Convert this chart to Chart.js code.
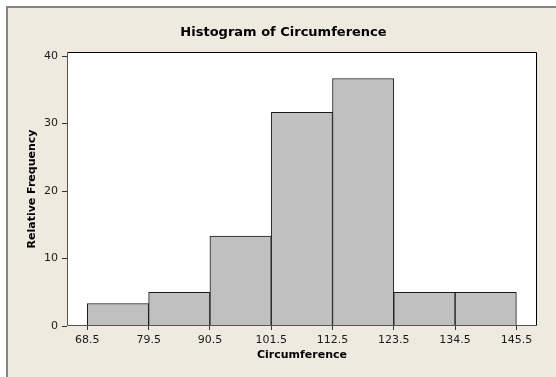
<!DOCTYPE html>
<html>
<head>
<meta charset="utf-8">
<script src="https://cdn.jsdelivr.net/npm/chart.js@4/dist/chart.umd.min.js"></script>
<style>
    html, body { margin: 0; padding: 0; background: #ffffff; }
    #frame {
        position: absolute; left: 6px; top: 6px; right: 0; bottom: 0;
        background: #eeeae0;
        border-top: 2px solid #848484;
        border-left: 2px solid #848484;
    }
    #histChart { position: absolute; left: 0; top: 0; }
</style>
</head>
<body>
<div id="frame"></div>
<canvas id="histChart" width="556" height="377"></canvas>
<script>
// class boundaries (also the x tick labels) and bar centres
const binEdges = [68.5, 79.5, 90.5, 101.5, 112.5, 123.5, 134.5, 145.5];
const binMidpoints = [74, 85, 96, 107, 118, 129, 140];
// relative frequency (%) per class
const relFreq = [3.33, 5.0, 13.33, 31.67, 36.67, 5.0, 5.0];
const yTicks = [0, 10, 20, 30, 40];

const FONT = 'DejaVu Sans';

// white plot area + frame round it
const plotFrame = {
    id: 'plotFrame',
    beforeDatasetsDraw(chart) {
        const { ctx, chartArea: a } = chart;
        ctx.save();
        ctx.fillStyle = '#ffffff';
        ctx.fillRect(a.left, a.top, a.right - a.left, a.bottom - a.top);
        ctx.restore();
    },
    afterDatasetsDraw(chart) {
        const { ctx, chartArea: a } = chart;
        ctx.save();
        ctx.lineWidth = 1;
        ctx.strokeStyle = '#000000';
        ctx.beginPath();
        ctx.moveTo(a.left + 0.5, a.top + 0.5);
        ctx.lineTo(a.right - 0.5, a.top + 0.5);
        ctx.lineTo(a.right - 0.5, a.bottom - 0.5);
        ctx.stroke();
        ctx.strokeStyle = '#555555';
        ctx.beginPath();
        ctx.moveTo(a.left + 0.5, a.top + 0.5);
        ctx.lineTo(a.left + 0.5, a.bottom - 0.5);
        ctx.lineTo(a.right - 0.5, a.bottom - 0.5);
        ctx.stroke();
        ctx.restore();
    }
};

const ctx = document.getElementById('histChart').getContext('2d');

new Chart(ctx, {
    type: 'bar',
    data: {
        datasets: [{
            label: 'Relative Frequency',
            data: binMidpoints.map((x, i) => ({ x: x, y: relFreq[i] })),
            backgroundColor: '#c0c0c0',
            borderColor: '#1a1a1a',
            borderWidth: 1,
            borderSkipped: 'bottom',
            barPercentage: 1,
            categoryPercentage: 1
        }]
    },
    options: {
        responsive: false,
        animation: false,
        layout: { padding: { left: 11, right: 0, top: 0, bottom: 0 } },
        plugins: {
            legend: { display: false },
            tooltip: { enabled: false },
            title: {
                display: true,
                text: 'Histogram of Circumference',
                color: '#000000',
                font: { family: FONT, size: 13, weight: 'bold' },
                padding: { top: 25.2, bottom: 11.2 }
            }
        },
        scales: {
            x: {
                type: 'linear',
                offset: false,
                min: 64.85,
                max: 149.2,
                afterBuildTicks: (scale) => {
                    scale.ticks = binEdges.map(v => ({ value: v }));
                },
                afterFit: (scale) => { scale.height = 51; },
                grid: {
                    offset: false,
                    drawOnChartArea: false,
                    drawTicks: true,
                    tickLength: 4,
                    color: '#333333'
                },
                border: { display: false },
                ticks: {
                    color: '#1a1a1a',
                    padding: 4,
                    maxRotation: 0,
                    autoSkip: false,
                    font: { family: FONT, size: 11 },
                    callback: (v) => Number(v).toFixed(1)
                },
                title: {
                    display: true,
                    text: 'Circumference',
                    color: '#000000',
                    font: { family: FONT, size: 11, weight: 'bold' },
                    padding: { top: 0, bottom: 15.4 }
                }
            },
            y: {
                min: 0,
                max: 40.6,
                afterBuildTicks: (scale) => {
                    scale.ticks = yTicks.map(v => ({ value: v }));
                },
                afterFit: (scale) => { scale.width = 56; },
                grid: {
                    drawOnChartArea: false,
                    drawTicks: true,
                    tickLength: 5,
                    color: '#333333'
                },
                border: { display: false },
                ticks: {
                    color: '#1a1a1a',
                    padding: 4,
                    font: { family: FONT, size: 11 }
                },
                title: {
                    display: true,
                    text: 'Relative Frequency',
                    color: '#000000',
                    font: { family: FONT, size: 11, weight: 'bold' },
                    padding: { top: 14.4, bottom: 0 }
                }
            },
            // empty strip on the right of the plot
            yRight: {
                position: 'right',
                display: true,
                afterFit: (scale) => { scale.width = 19; },
                grid: { display: false, drawTicks: false },
                border: { display: false },
                ticks: { display: false }
            }
        }
    },
    plugins: [plotFrame]
});
</script>
</body>
</html>
